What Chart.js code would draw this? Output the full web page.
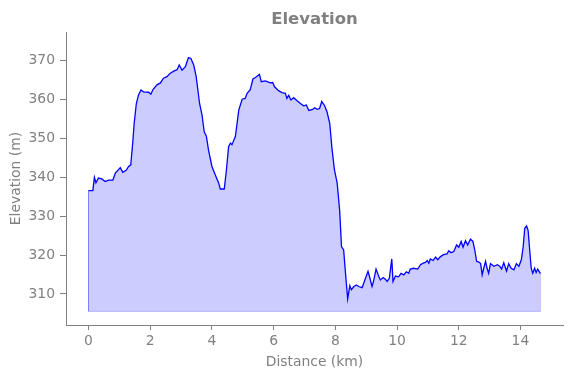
<!DOCTYPE html>
<html>
<head>
<meta charset="utf-8">
<script src="https://cdn.jsdelivr.net/npm/chart.js@4.4.0/dist/chart.umd.min.js"></script>
<style>
  body { margin: 0; background: #fff; }
  #wrap { width: 571px; height: 378px; }
</style>
</head>
<body>
<div id="wrap"><canvas id="elevChart" width="571" height="378"></canvas></div>
<script>
// distance along the track (km) and elevation (m)
var distKm = [0, 0.14, 0.19, 0.24, 0.32, 0.43, 0.54, 0.65, 0.79, 0.87, 1.03, 1.11, 1.22, 1.30, 1.37, 1.44, 1.48, 1.55, 1.62, 1.70,
  1.78, 1.95, 2.02, 2.09, 2.22, 2.33, 2.43, 2.54, 2.65, 2.78, 2.87, 2.94, 3.03, 3.14, 3.24, 3.32, 3.41, 3.49, 3.60, 3.68,
  3.75, 3.82, 3.89, 4.00, 4.11, 4.22, 4.27, 4.40, 4.47, 4.54, 4.60, 4.65, 4.76, 4.87, 4.98, 5.08, 5.14, 5.24, 5.33, 5.41,
  5.54, 5.60, 5.73, 5.89, 5.97, 6.03, 6.16, 6.27, 6.38, 6.43, 6.49, 6.56, 6.65, 6.76, 6.87, 6.97, 7.06, 7.14, 7.25, 7.33,
  7.41, 7.49, 7.56, 7.65, 7.73, 7.82, 7.89, 7.97, 8.06, 8.14, 8.20, 8.27, 8.33, 8.40, 8.47, 8.52, 8.60, 8.68, 8.76, 8.87,
  8.98, 9.06, 9.12, 9.19, 9.24, 9.32, 9.41, 9.46, 9.55, 9.62, 9.68, 9.75, 9.83, 9.87, 9.95, 10.05, 10.13, 10.22, 10.30, 10.38,
  10.43, 10.54, 10.67, 10.76, 10.85, 10.92, 10.98, 11.03, 11.08, 11.17, 11.25, 11.32, 11.41, 11.51, 11.62, 11.68, 11.75, 11.84, 11.93, 12.00,
  12.08, 12.14, 12.22, 12.29, 12.38, 12.46, 12.52, 12.58, 12.65, 12.71, 12.76, 12.81, 12.87, 12.92, 12.97, 13.03, 13.14, 13.25, 13.33, 13.39,
  13.46, 13.55, 13.62, 13.70, 13.79, 13.87, 13.95, 14.03, 14.09, 14.14, 14.20, 14.25, 14.30, 14.35, 14.40, 14.46, 14.51, 14.56, 14.65];
var elevM = [336.6, 336.6, 340.0, 338.6, 339.8, 339.6, 338.9, 339.3, 339.3, 341.1, 342.5, 341.3, 341.8, 342.8, 343.2, 349.6, 353.9, 359.0, 361.2, 362.5,
  362.0, 361.9, 361.4, 362.6, 363.8, 364.3, 365.5, 365.9, 366.8, 367.4, 367.7, 368.9, 367.6, 368.5, 370.8, 370.6, 368.9, 365.9, 359.0, 356.0,
  351.7, 350.6, 347.0, 342.8, 340.6, 338.5, 337.0, 337.0, 341.9, 347.9, 348.8, 348.4, 350.5, 357.3, 360.1, 360.3, 361.6, 362.5, 365.3, 365.7,
  366.5, 364.6, 364.8, 364.3, 364.4, 363.3, 362.3, 361.8, 361.6, 360.3, 361.1, 359.9, 360.5, 359.7, 359.0, 358.4, 358.6, 357.2, 357.4, 357.9,
  357.5, 357.7, 359.5, 358.5, 356.9, 353.8, 347.5, 342.0, 338.5, 331.5, 322.2, 321.3, 315.3, 308.7, 312.1, 311.1, 311.9, 312.3, 311.9, 311.6,
  314.1, 315.8, 314.1, 311.9, 313.3, 316.4, 314.5, 313.6, 314.2, 313.8, 313.2, 314.0, 319.0, 313.2, 314.6, 314.4, 315.3, 314.9, 315.7, 315.3,
  316.4, 316.6, 316.4, 317.5, 317.9, 318.1, 318.6, 317.9, 319.0, 318.6, 319.5, 318.8, 319.6, 320.1, 320.3, 321.1, 320.6, 320.9, 322.6, 322.0,
  323.5, 322.0, 323.7, 322.6, 324.1, 323.5, 321.3, 318.4, 318.2, 317.8, 314.9, 316.6, 318.4, 316.6, 315.3, 317.8, 317.1, 317.5, 317.1, 316.4,
  318.0, 315.9, 317.8, 316.6, 316.2, 317.8, 317.1, 318.8, 322.2, 326.9, 327.5, 326.3, 321.3, 316.6, 315.3, 316.6, 315.5, 316.4, 315.2];
var baseElev = 305.5;
var xTicks = [0, 2, 4, 6, 8, 10, 12, 14];
var yTicks = [310, 320, 330, 340, 350, 360, 370];

var grey = '#808080';
var tickFont = { family: 'DejaVu Sans', size: 13.9 };

var profile = distKm.map((d, i) => ({ x: d, y: elevM[i] }));
var last = distKm.length - 1;
// outline of the filled area (left edge, floor, right edge)
var outline = [
  { x: distKm[0], y: elevM[0] },
  { x: distKm[0], y: baseElev },
  { x: distKm[last], y: baseElev },
  { x: distKm[last], y: elevM[last] }
];

var titlePlugin = {
  id: 'plotTitle',
  afterDraw: function(chart){
    var ctx = chart.ctx, a = chart.chartArea;
    ctx.save();
    ctx.font = 'bold 16.5px "DejaVu Sans"';
    ctx.fillStyle = grey;
    ctx.textAlign = 'center';
    ctx.textBaseline = 'alphabetic';
    ctx.fillText('Elevation', (a.left + a.right) / 2, 24);
    ctx.restore();
  }
};

new Chart(document.getElementById('elevChart'), {
  type: 'line',
  data: {
    datasets: [{
      data: profile,
      borderColor: '#0000ff',
      borderWidth: 1.3,
      backgroundColor: 'rgba(0, 0, 255, 0.2)',
      fill: { value: baseElev },
      pointRadius: 0,
      tension: 0,
      order: 1
    }, {
      data: outline,
      borderColor: 'rgba(0, 0, 255, 0.2)',
      borderWidth: 1,
      fill: false,
      pointRadius: 0,
      order: 2
    }]
  },
  options: {
    responsive: false,
    animation: false,
    layout: { padding: { top: 32, right: 8, left: 0, bottom: 0 } },
    plugins: { legend: { display: false }, tooltip: { enabled: false } },
    scales: {
      x: {
        type: 'linear',
        min: -0.73,
        max: 15.38,
        afterBuildTicks: s => { s.ticks = xTicks.map(v => ({ value: v })); },
        afterFit: s => { s.height = 53; },
        grid: { drawOnChartArea: false, tickLength: 5, tickColor: grey },
        border: { color: grey, width: 1 },
        ticks: { color: grey, font: tickFont, padding: 3, maxRotation: 0 },
        title: { display: true, text: 'Distance (km)', color: grey, font: tickFont, padding: { top: 0, bottom: 7 } }
      },
      y: {
        min: 302,
        max: 377.4,
        afterBuildTicks: s => { s.ticks = yTicks.map(v => ({ value: v })); },
        afterFit: s => { s.width = 66; },
        grid: { drawOnChartArea: false, tickLength: 6, tickColor: grey },
        border: { color: grey, width: 1 },
        ticks: { color: grey, font: tickFont, padding: 5 },
        title: { display: true, text: 'Elevation (m)', color: grey, font: tickFont, padding: { top: 8, bottom: 0 } }
      }
    }
  },
  plugins: [titlePlugin]
});
</script>
</body>
</html>
